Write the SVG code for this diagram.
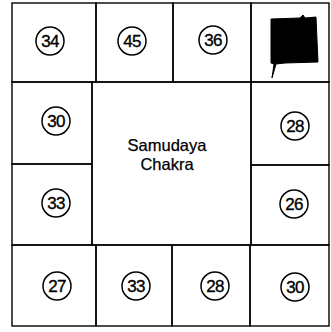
<svg xmlns="http://www.w3.org/2000/svg" width="331" height="332" viewBox="0 0 331 332">
<style>
.cell{fill:none;stroke:#000;stroke-width:1.4}
.c{fill:#fff;stroke:#000;stroke-width:1.5}
.n{font-family:"Liberation Sans",Arial,sans-serif;font-size:17px;letter-spacing:-0.8px;fill:#000;stroke:#000;stroke-width:0.35;text-anchor:middle;dominant-baseline:central}
.t{font-family:"Liberation Sans",Arial,sans-serif;font-size:16.5px;fill:#000;stroke:#000;stroke-width:0.25;text-anchor:middle}
</style>
<rect width="331" height="332" fill="#fff"/>
<g id="cell-34"><rect class="cell" x="12" y="3" width="84" height="79"/><circle class="c" cx="50" cy="41" r="14"/><text class="n" x="50" y="41">34</text></g>
<g id="cell-45"><rect class="cell" x="96" y="3" width="77" height="79"/><circle class="c" cx="132" cy="41" r="14"/><text class="n" x="132" y="41">45</text></g>
<g id="cell-36"><rect class="cell" x="173" y="3" width="78" height="79"/><circle class="c" cx="213" cy="40" r="14"/><text class="n" x="213" y="40">36</text></g>
<g id="cell-black"><rect class="cell" x="251" y="3" width="78" height="79"/><path d="M271,19 L300,18 L303,15 L305,18 L316,17 L317,40 L318,62 L285,63 L276,64 L272,78 L274,64 L271,63 Z" fill="#000" stroke="#000" stroke-width="1"/></g>
<g id="cell-30a"><rect class="cell" x="12" y="82" width="80" height="82"/><circle class="c" cx="56" cy="121" r="14"/><text class="n" x="56" y="121">30</text></g>
<g id="cell-33a"><rect class="cell" x="12" y="164" width="80" height="81"/><circle class="c" cx="56" cy="203" r="14"/><text class="n" x="56" y="203">33</text></g>
<g id="center"><rect class="cell" x="92" y="82" width="159" height="163"/><text class="t" x="167" y="151">Samudaya</text><text class="t" x="167" y="170">Chakra</text></g>
<g id="cell-28a"><rect class="cell" x="251" y="82" width="78" height="83"/><circle class="c" cx="295" cy="126" r="14"/><text class="n" x="295" y="126">28</text></g>
<g id="cell-26"><rect class="cell" x="251" y="165" width="78" height="80"/><circle class="c" cx="294" cy="204" r="14"/><text class="n" x="294" y="204">26</text></g>
<g id="cell-27"><rect class="cell" x="12" y="245" width="84" height="81"/><circle class="c" cx="57" cy="286" r="14"/><text class="n" x="57" y="286">27</text></g>
<g id="cell-33b"><rect class="cell" x="96" y="245" width="76" height="81"/><circle class="c" cx="136" cy="286" r="14"/><text class="n" x="136" y="286">33</text></g>
<g id="cell-28b"><rect class="cell" x="172" y="245" width="78" height="81"/><circle class="c" cx="215" cy="286" r="14"/><text class="n" x="215" y="286">28</text></g>
<g id="cell-30b"><rect class="cell" x="250" y="245" width="79" height="81"/><circle class="c" cx="295" cy="287" r="14"/><text class="n" x="295" y="287">30</text></g>
<g id="connectors"/>
</svg>
